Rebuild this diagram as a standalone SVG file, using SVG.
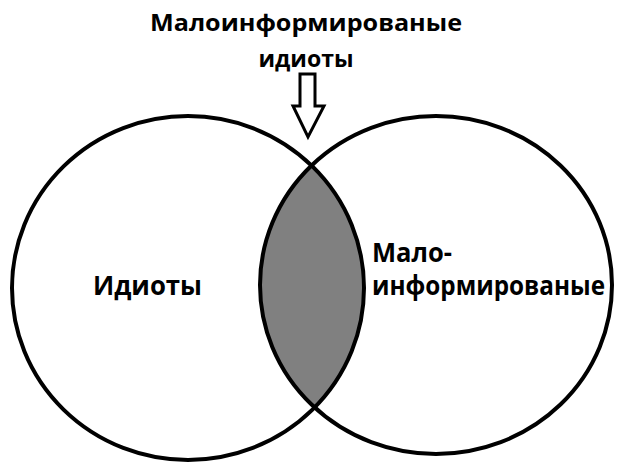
<svg xmlns="http://www.w3.org/2000/svg" width="627" height="465" viewBox="0 0 627 465">
<style>
.c{fill:none;stroke:#000;stroke-width:4}
.t{font-family:"Open Sans","Noto Sans","DejaVu Sans",sans-serif;font-weight:bold;fill:#000}
</style>
<defs>
<clipPath id="cl"><ellipse cx="188" cy="288" rx="176" ry="172"/></clipPath>
</defs>
<rect width="627" height="465" fill="#fff"/>
<g id="overlap">
<ellipse cx="436" cy="285" rx="176" ry="169" fill="#808080" clip-path="url(#cl)"/>
</g>
<g id="left">
<ellipse class="c" cx="188" cy="288" rx="176" ry="172"/>
<text class="t" x="93" y="295" font-size="27" textLength="109" lengthAdjust="spacingAndGlyphs">Идиоты</text>
</g>
<g id="right">
<ellipse class="c" cx="436" cy="285" rx="176" ry="169"/>
<text class="t" x="372" y="262" font-size="26" textLength="80" lengthAdjust="spacingAndGlyphs">Мало-</text>
<text class="t" x="372" y="295" font-size="26" textLength="233" lengthAdjust="spacingAndGlyphs">информированые</text>
</g>
<g id="label">
<text class="t" x="306" y="31" font-size="24" text-anchor="middle" textLength="312" lengthAdjust="spacingAndGlyphs">Малоинформированые</text>
<text class="t" x="306" y="67" font-size="24" text-anchor="middle" textLength="95" lengthAdjust="spacingAndGlyphs">идиоты</text>
</g>
<g id="connectors">
<polygon points="300,74 315,74 315,106 324,106 308,137 293,106 300,106" fill="#fff" stroke="#000" stroke-width="3" stroke-linejoin="miter"/>
</g>
</svg>
